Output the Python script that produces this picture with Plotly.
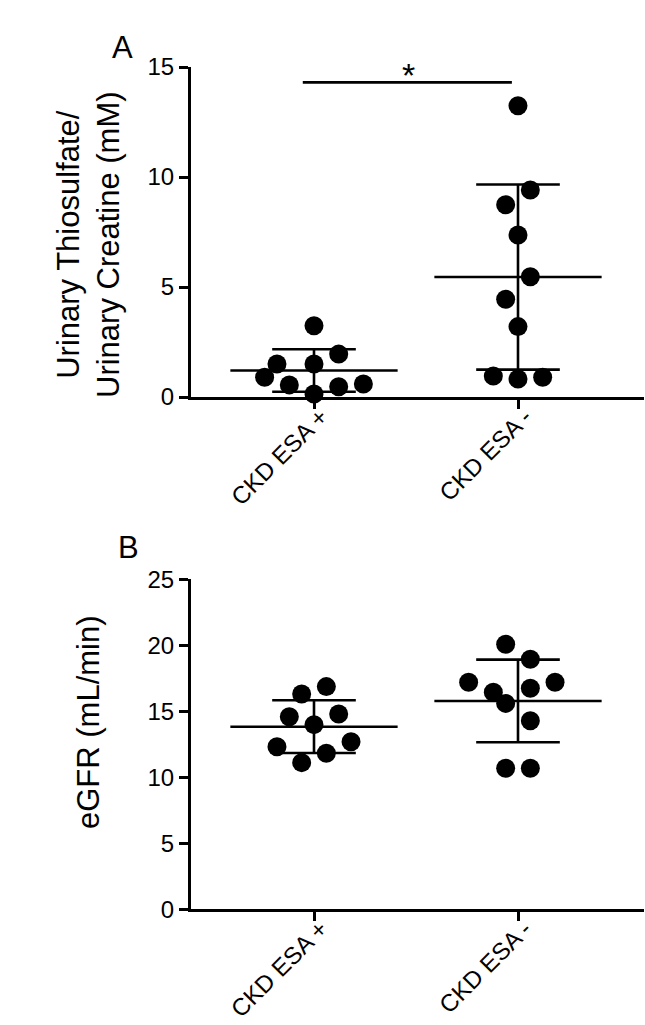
import numpy as np
import plotly.graph_objects as go

# ---------------- data ----------------
categories = ["CKD ESA +", "CKD ESA -"]

# Panel A: urinary thiosulfate / urinary creatine (mM)
thio_esa_pos = [3.24, 1.95, 1.50, 1.50, 0.90, 0.55, 0.47, 0.59, 0.14]
thio_esa_neg = [13.24, 9.41, 8.74, 7.36, 5.47, 4.44, 3.20, 0.95, 0.82, 0.90]
# Panel B: eGFR (mL/min)
egfr_esa_pos = [16.31, 16.87, 14.59, 14.80, 13.99, 12.32, 12.70, 11.82, 11.11]
egfr_esa_neg = [20.08, 18.94, 17.20, 17.20, 16.74, 16.44, 15.60, 14.29, 10.68, 10.68]

# horizontal scatter slot of each dot (dot plot spreading, in slot units)
slot_thio_pos = [0, 2, -3, 0, -4, -2, 2, 4, 0]
slot_thio_neg = [0, 1, -1, 0, 1, -1, 0, -2, 0, 2]
slot_egfr_pos = [-1, 1, -2, 2, 0, -3, 3, 1, -1]
slot_egfr_neg = [-1, 1, -4, 3, 1, -2, -1, 1, -1, 1]

yticks_a = [0, 5, 10, 15]
yticks_b = [0, 5, 10, 15, 20, 25]

# ---------------- style ----------------
FONT = "Liberation Sans, Arial, sans-serif"
SLOT = 0.0605      # x units per slot
MEAN_HW = 0.41     # half width of mean line
CAP_HW = 0.205     # half width of SD caps
DOT = 19
LW = 2.6

fig = go.Figure()


def add_group(vals, slots, gx, xa, ya):
    v = np.array(vals, dtype=float)
    x = [gx + s * SLOT for s in slots]
    m = v.mean()
    sd = v.std(ddof=1)
    lx = [gx - MEAN_HW, gx + MEAN_HW, None,
          gx - CAP_HW, gx + CAP_HW, None,
          gx - CAP_HW, gx + CAP_HW, None,
          gx, gx]
    ly = [m, m, None, m + sd, m + sd, None, m - sd, m - sd, None, m - sd, m + sd]
    fig.add_trace(go.Scatter(x=lx, y=ly, mode="lines", xaxis=xa, yaxis=ya,
                             line=dict(color="black", width=LW),
                             showlegend=False, hoverinfo="skip", cliponaxis=False))
    fig.add_trace(go.Scatter(x=x, y=v, mode="markers", xaxis=xa, yaxis=ya,
                             marker=dict(color="black", size=DOT, line=dict(width=0)),
                             showlegend=False, cliponaxis=False))


add_group(thio_esa_pos, slot_thio_pos, 0, "x", "y")
add_group(thio_esa_neg, slot_thio_neg, 1, "x", "y")
add_group(egfr_esa_pos, slot_egfr_pos, 0, "x2", "y2")
add_group(egfr_esa_neg, slot_egfr_neg, 1, "x2", "y2")

# significance bar for panel A
fig.add_trace(go.Scatter(x=[-0.055, 0.97], y=[14.3, 14.3], mode="lines",
                         xaxis="x", yaxis="y", line=dict(color="black", width=LW),
                         showlegend=False, hoverinfo="skip", cliponaxis=False))

xdom = [191 / 645, 644 / 645]
xr = [-(314 - 191) / 204, (644 - 314) / 204]
ydom_a = [1 - 397 / 1025, 1 - 67 / 1025]
ydom_b = [1 - 909.3 / 1025, 1 - 579.3 / 1025]

common_x = dict(range=xr, domain=xdom, showline=True, linecolor="black", linewidth=3,
                ticks="outside", ticklen=9, tickwidth=3, tickcolor="black",
                tickvals=[0, 1], showticklabels=False,
                showgrid=False, zeroline=False, automargin=False, layer="below traces")
common_y = dict(showline=True, linecolor="black", linewidth=3,
                ticks="outside", ticklen=9, tickwidth=3, tickcolor="black",
                showgrid=False, zeroline=False, automargin=False,
                tickfont=dict(family=FONT, size=24, color="black"), layer="below traces")

fig.update_layout(
    width=645, height=1025,
    margin=dict(l=0, r=0, t=0, b=0),
    paper_bgcolor="white", plot_bgcolor="white",
    font=dict(family=FONT, color="black"),
    xaxis=dict(anchor="y", **common_x),
    yaxis=dict(anchor="x", range=[0, 15], tickvals=yticks_a, domain=ydom_a, **common_y),
    xaxis2=dict(anchor="y2", **common_x),
    yaxis2=dict(anchor="x2", range=[0, 25], tickvals=yticks_b, domain=ydom_b, **common_y),
)

annots = [
    dict(text="*", x=0.461, y=14.3, xref="x", yref="y", xanchor="center",
         yanchor="bottom", yshift=-14,
         showarrow=False, font=dict(family=FONT, size=34, color="black")),
    dict(text="A", x=122 / 645, y=1 - 47 / 1025, xref="paper", yref="paper",
         xanchor="center", yanchor="middle",
         showarrow=False, font=dict(family=FONT, size=31, color="black")),
    dict(text="B", x=128 / 645, y=1 - 547 / 1025, xref="paper", yref="paper",
         xanchor="center", yanchor="middle",
         showarrow=False, font=dict(family=FONT, size=31, color="black")),
    dict(text="Urinary Thiosulfate/<br>Urinary Creatine (mM)", x=88 / 645,
         y=1 - 245 / 1025, xref="paper", yref="paper", textangle=-90,
         xanchor="center", yanchor="middle",
         showarrow=False, font=dict(family=FONT, size=31, color="black")),
    dict(text="eGFR (mL/min)", x=88 / 645, y=1 - 722 / 1025, xref="paper",
         yref="paper", textangle=-90, xanchor="center", yanchor="middle",
         showarrow=False, font=dict(family=FONT, size=31, color="black")),
]

# rotated category labels, hung from each tick
for xa, ydom in (("x", ydom_a), ("x2", ydom_b)):
    for i, cat in enumerate(categories):
        annots.append(dict(text=cat, x=i, y=ydom[0], xref=xa, yref="paper",
                           xanchor="right", yanchor="top", textangle=-45,
                           xshift=22, yshift=-3, showarrow=False,
                           font=dict(family=FONT, size=24, color="black")))

fig.update_layout(annotations=annots)

fig.write_html("out.html", config={"displayModeBar": False},
               post_script="document.body.style.margin='0';document.body.style.overflow='hidden';")
